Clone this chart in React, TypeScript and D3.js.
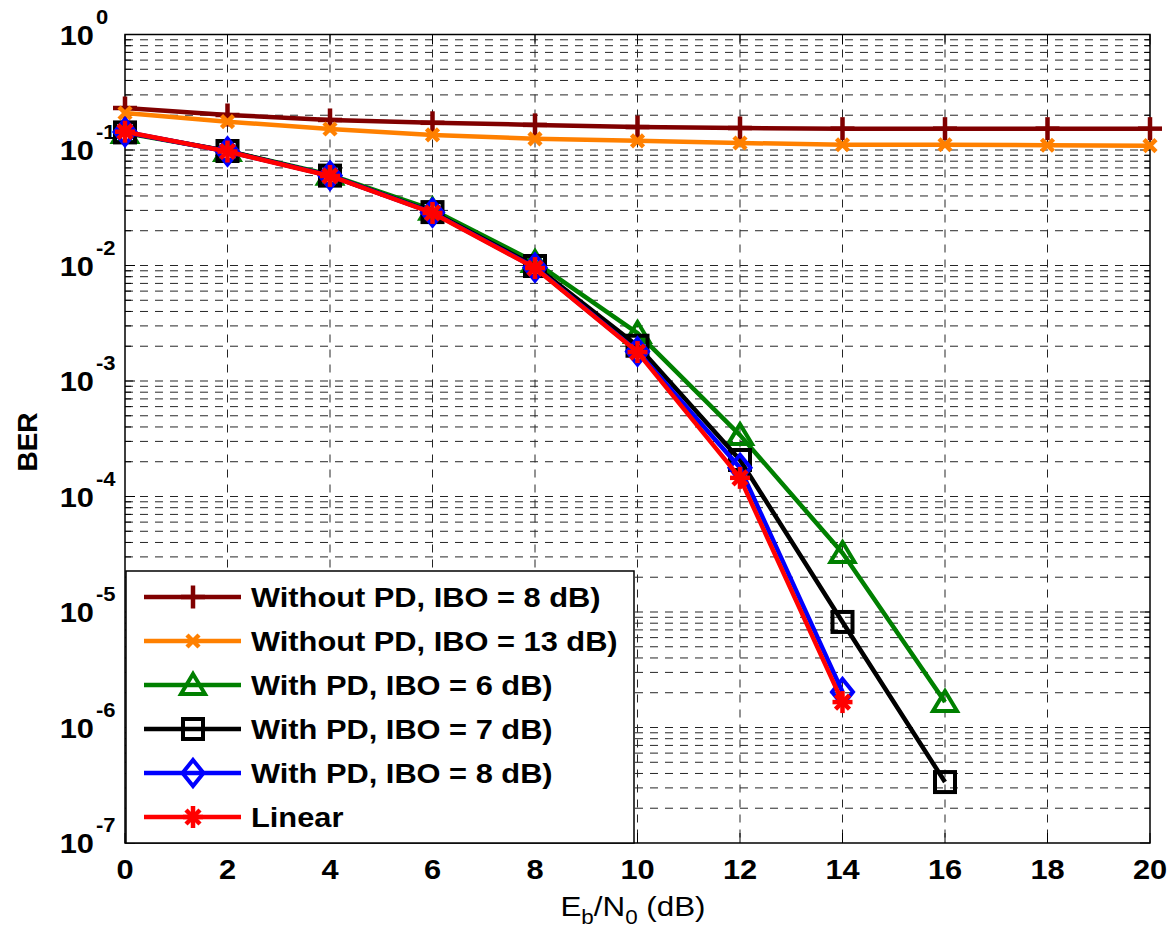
import React from "react";
import * as d3 from "d3";

const snr = [0, 2, 4, 6, 8, 10, 12, 14, 16, 18, 20];
const xTicks = [0, 2, 4, 6, 8, 10, 12, 14, 16, 18, 20];
const yDecades = [0, -1, -2, -3, -4, -5, -6, -7];

const woPd8 = [0.231, 0.201, 0.182, 0.172, 0.165, 0.158, 0.155, 0.153, 0.153, 0.153, 0.153];
const woPd13 = [0.209, 0.176, 0.152, 0.135, 0.125, 0.12, 0.115, 0.111, 0.111, 0.11, 0.109];
const pd6 = [0.14, 0.098, 0.061, 0.0304, 0.0107, 0.0026, 3.4e-4, 3.24e-5, 1.66e-6];
const pd7 = [0.142, 0.098, 0.06, 0.029, 0.0099, 0.00202, 2.07e-4, 8.2e-6, 3.37e-7];
const pd8 = [0.143, 0.097, 0.06, 0.0287, 0.0096, 0.0018, 1.77e-4, 2.03e-6];
const linear = [0.144, 0.097, 0.0596, 0.0285, 0.0095, 0.00178, 1.45e-4, 1.66e-6];

const seriesNames = [
  "Without PD, IBO = 8 dB)",
  "Without PD, IBO = 13 dB)",
  "With PD, IBO = 6 dB)",
  "With PD, IBO = 7 dB)",
  "With PD, IBO = 8 dB)",
  "Linear",
];
const seriesColors = ["#800000", "#ff8000", "#008000", "#000000", "#0000ff", "#ff0000"];
const seriesMarkers = ["plus", "x", "triangle", "square", "diamond", "star"];
const seriesValues = [woPd8, woPd13, pd6, pd7, pd8, linear];

const W = 1172;
const H = 932;
const L = 125, R = 1150, T = 34.5, B = 843;
const FONT = "'Liberation Sans', Arial, Helvetica, sans-serif";

const x = d3.scaleLinear().domain([0, 20]).range([L, R]);
const y = d3.scaleLog().domain([1e-7, 1]).range([B, T]);

function Marker({ kind, cx, cy, color }: { kind: string; cx: number; cy: number; color: string }) {
  const sw = 4;
  switch (kind) {
    case "plus":
      return (
        <g stroke={color} strokeWidth={4.5} fill="none">
          <line x1={cx} y1={cy - 11.5} x2={cx} y2={cy + 11.5} />
          <line x1={cx - 12} y1={cy} x2={cx + 12} y2={cy} />
        </g>
      );
    case "x":
      return (
        <g stroke={color} strokeWidth={4.5} fill="none">
          <line x1={cx - 6} y1={cy - 6} x2={cx + 6} y2={cy + 6} />
          <line x1={cx - 6} y1={cy + 6} x2={cx + 6} y2={cy - 6} />
        </g>
      );
    case "triangle":
      return (
        <path
          d={`M${cx},${cy - 11} L${cx + 12},${cy + 9} L${cx - 12},${cy + 9} Z`}
          stroke={color}
          strokeWidth={sw}
          fill="none"
          strokeLinejoin="miter"
        />
      );
    case "square":
      return <rect x={cx - 10} y={cy - 10} width={20} height={20} stroke={color} strokeWidth={sw} fill="none" />;
    case "diamond":
      return (
        <path
          d={`M${cx},${cy - 13} L${cx + 10.5},${cy} L${cx},${cy + 13} L${cx - 10.5},${cy} Z`}
          stroke={color}
          strokeWidth={sw}
          fill="none"
        />
      );
    case "star":
      return (
        <g stroke={color} strokeWidth={4.5} fill="none">
          <line x1={cx} y1={cy - 11} x2={cx} y2={cy + 11} />
          <line x1={cx - 10} y1={cy} x2={cx + 10} y2={cy} />
          <line x1={cx - 7} y1={cy - 7} x2={cx + 7} y2={cy + 7} />
          <line x1={cx - 7} y1={cy + 7} x2={cx + 7} y2={cy - 7} />
        </g>
      );
  }
  return null;
}

function SText({ x: tx, y: ty, anchor = "start", size, weight = "bold", children }: any) {
  return (
    <g transform={`translate(${tx},${ty}) scale(1.1,1)`}>
      <text textAnchor={anchor} fontSize={size} fontWeight={weight} fontFamily={FONT} fill="#000">
        {children}
      </text>
    </g>
  );
}

export default function App() {
  const line = d3
    .line<[number, number]>()
    .x((d) => x(d[0]))
    .y((d) => y(d[1]));

  const minor: number[] = [];
  for (let e = -7; e < 0; e++) {
    for (let m = 2; m <= 9; m++) minor.push(m * Math.pow(10, e));
  }
  const major = yDecades.map((e) => Math.pow(10, e));
  const dash = "8,7";

  const legX = 126, legY = 571, legW = 508, legH = 272;
  const rowY = (i: number) => 597 + i * 44;

  return (
    <svg width={W} height={H} style={{ position: "absolute", left: 0, top: 0, background: "#fff" }}>
      <rect x={0} y={0} width={W} height={H} fill="#fff" />
      <g stroke="#000" strokeWidth={1} strokeDasharray={dash} opacity={0.85}>
        {xTicks
          .filter((t) => t > 0 && t < 20)
          .map((t) => (
            <line key={"vx" + t} x1={x(t)} x2={x(t)} y1={T} y2={B} />
          ))}
        {minor.concat(major.filter((v) => v < 1 && v > 1e-7)).map((v, i) => (
          <line key={"hy" + i} x1={L} x2={R} y1={y(v)} y2={y(v)} />
        ))}
      </g>
      <g stroke="#000" strokeWidth={1}>
        {xTicks.map((t) => (
          <g key={"xt" + t}>
            <line x1={x(t)} x2={x(t)} y1={B} y2={B - 10} />
            <line x1={x(t)} x2={x(t)} y1={T} y2={T + 10} />
          </g>
        ))}
        {major.map((v, i) => (
          <g key={"ymt" + i}>
            <line x1={L} x2={L + 10} y1={y(v)} y2={y(v)} />
            <line x1={R} x2={R - 10} y1={y(v)} y2={y(v)} />
          </g>
        ))}
        {minor.map((v, i) => (
          <g key={"ymn" + i}>
            <line x1={L} x2={L + 6} y1={y(v)} y2={y(v)} />
            <line x1={R} x2={R - 6} y1={y(v)} y2={y(v)} />
          </g>
        ))}
      </g>
      <rect x={L} y={T} width={R - L} height={B - T} fill="none" stroke="#000" strokeWidth={1.5} />

      {seriesValues.map((vals, si) => {
        const pts: [number, number][] = vals.map((v, i) => [snr[i], v]);
        return (
          <g key={"s" + si}>
            <path d={line(pts) || ""} stroke={seriesColors[si]} strokeWidth={4.5} fill="none" strokeLinejoin="round" />
            {pts.map((p, i) => (
              <Marker key={i} kind={seriesMarkers[si]} cx={x(p[0])} cy={y(p[1])} color={seriesColors[si]} />
            ))}
          </g>
        );
      })}

      <rect x={legX} y={legY} width={legW} height={legH} fill="#fff" stroke="#000" strokeWidth={1.5} />
      {seriesNames.map((name, i) => (
        <g key={"lg" + i}>
          <line x1={144} x2={241} y1={rowY(i)} y2={rowY(i)} stroke={seriesColors[i]} strokeWidth={4.5} />
          <Marker kind={seriesMarkers[i]} cx={193} cy={rowY(i)} color={seriesColors[i]} />
          <SText x={251} y={rowY(i) + 10} size={28}>
            {name}
          </SText>
        </g>
      ))}

      {xTicks.map((t) => (
        <SText key={"xl" + t} x={x(t)} y={879} anchor="middle" size={28}>
          {String(t)}
        </SText>
      ))}
      {yDecades.map((e) => (
        <g key={"yl" + e}>
          <SText x={94} y={y(Math.pow(10, e)) + 10} anchor="end" size={28}>
            10
          </SText>
          <SText x={96} y={y(Math.pow(10, e)) - 11} size={20}>
            {String(e)}
          </SText>
        </g>
      ))}
      <g transform={`translate(633,916) scale(1.12,1)`}>
        <text textAnchor="middle" fontSize={28} fontFamily={FONT} fill="#000">
          E<tspan fontSize={20} dy={8}>b</tspan>
          <tspan dy={-8}>/N</tspan>
          <tspan fontSize={20} dy={8}>0</tspan>
          <tspan dy={-8}> (dB)</tspan>
        </text>
      </g>
      <text
        transform="translate(37,442) rotate(-90)"
        textAnchor="middle"
        fontSize={28}
        fontWeight="bold"
        fontFamily={FONT}
        fill="#000"
      >
        BER
      </text>
    </svg>
  );
}
